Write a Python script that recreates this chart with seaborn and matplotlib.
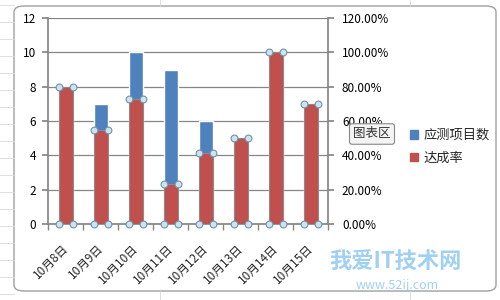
import matplotlib
matplotlib.use("Agg")
import matplotlib.pyplot as plt
import seaborn as sns
import numpy as np
import pandas as pd
from matplotlib.patches import FancyBboxPatch, Patch
from matplotlib.ticker import FuncFormatter, MultipleLocator
import matplotlib.transforms as mtrans

categories = ["10月8日", "10月9日", "10月10日", "10月11日", "10月12日", "10月13日", "10月14日", "10月15日"]
item_counts = [8, 7, 10, 9, 6, 5, 10, 7]
rates = [0.80, 0.55, 0.73, 0.235, 0.415, 0.50, 1.00, 0.70]
series_names = ["应测项目数", "达成率"]

sns.set_theme(style="white")
plt.rcParams['font.family'] = ['Noto Sans CJK SC', 'DejaVu Sans']

blue = "#4F81BD"
red = "#C0504D"
grid_c = "#868686"

df = pd.DataFrame({"date": categories, "count": item_counts, "rate": rates})

fig = plt.figure(figsize=(5, 3), dpi=100)
fig.patch.set_facecolor("white")

# spreadsheet backdrop lines (margins only)
for xx in [0.32, 0.82]:
    fig.add_artist(plt.Line2D([xx, xx], [0.98, 1], color="#d8d8d8", lw=0.6))
    fig.add_artist(plt.Line2D([xx, xx], [0, 0.03], color="#d8d8d8", lw=0.6))
for yy in np.arange(0.02, 1.0, 0.0567):
    fig.add_artist(plt.Line2D([0, 0.028], [yy, yy], color="#d8d8d8", lw=0.6))
# chart area
fig.add_artist(FancyBboxPatch((14/500, 1-291/300), 482/500, 285/300,
                              boxstyle="round,pad=0,rounding_size=0.02",
                              transform=fig.transFigure, facecolor="white",
                              edgecolor="#a0a0a0", lw=1.0, zorder=0))

ax = fig.add_axes([48/500, 1-224/300, 280/500, 206/300])
ax.set_zorder(1)
sns.barplot(data=df, x="date", y="count", color=blue, width=0.4,
            saturation=1, ax=ax, zorder=2)
ax.set_ylim(0, 12)
ax.yaxis.set_major_locator(MultipleLocator(2))
ax.grid(axis="y", color=grid_c, lw=0.9, zorder=0)
ax.set_axisbelow(True)
ax.set_xlabel("")
ax.set_ylabel("")

ax2 = ax.twinx()
sns.barplot(data=df, x="date", y="rate", color=red, width=0.4,
            saturation=1, ax=ax2, edgecolor="#8c8c8c", linewidth=0.8, zorder=3)
ax2.set_ylim(0, 1.2)
ax2.yaxis.set_major_locator(MultipleLocator(0.2))
ax2.yaxis.set_major_formatter(FuncFormatter(lambda v, p: f"{v*100:.2f}%"))
ax2.set_ylabel("")
ax2.set_xlabel("")

# selection handles on red bars
xs = np.arange(len(categories))
hx = np.concatenate([xs - 0.2, xs + 0.2, xs - 0.2, xs + 0.2])
hy = np.concatenate([rates, rates, np.zeros(len(rates)), np.zeros(len(rates))])
ax2.scatter(hx, hy, s=24, facecolor="#cfe3ef", edgecolor="#6f93a8",
            linewidth=0.8, zorder=5, clip_on=False)

for a in (ax, ax2):
    for s in a.spines.values():
        s.set_visible(False)
    a.set_xlim(-0.5, len(categories) - 0.5)
ax.spines["left"].set_visible(True)
ax.spines["left"].set_color(grid_c)
ax.spines["bottom"].set_visible(True)
ax.spines["bottom"].set_color(grid_c)
ax2.spines["right"].set_visible(True)
ax2.spines["right"].set_color(grid_c)

ax.tick_params(axis="y", left=True, length=4, color=grid_c, labelsize=8.5,
               pad=4.7, labelcolor="black")
ax2.tick_params(axis="y", right=True, length=4, color=grid_c, labelsize=8.5,
                pad=6, labelcolor="black")
# x ticks between categories
ax.set_xticks(np.arange(-0.5, len(categories), 1.0), minor=True)
ax.tick_params(axis="x", which="minor", bottom=True, length=4, color=grid_c)
ax.tick_params(axis="x", which="major", bottom=False, labelsize=8.5, pad=4)
ax.set_xticks(xs)
ax.set_xticklabels(categories, rotation=45, ha="right", va="center",
                   rotation_mode="anchor")
for lbl in ax.get_xticklabels():
    lbl.set_transform(lbl.get_transform() + mtrans.ScaledTranslation(0.5/72, -6/72, fig.dpi_scale_trans))

# legend
handles = [Patch(color=blue), Patch(color=red)]
fig.legend(handles, series_names, loc="center left", bbox_to_anchor=(398/500, 1-147/300),
           frameon=False, fontsize=9.5, handlelength=0.6, handleheight=0.6,
           handletextpad=0.4, labelspacing=0.75)

# tooltip
fig.text(372/500, 1-134/300, "图表区", fontsize=9, ha="center", va="center",
         color="#333333",
         bbox=dict(boxstyle="round,pad=0.3,rounding_size=0.2", facecolor="#f4f4f4",
                   edgecolor="#888888", lw=0.8))

# watermark
fig.text(396/500, 1-262/300, "我爱IT技术网", fontsize=16, fontweight="bold",
         color="#8fc8f0", alpha=0.85, ha="center", va="center")
fig.text(397/500, 1-285/300, "www.52ij.com", fontsize=9,
         color="#8fc8f0", alpha=0.85, ha="center", va="center")

fig.savefig("out.png", dpi=100, facecolor="white")
